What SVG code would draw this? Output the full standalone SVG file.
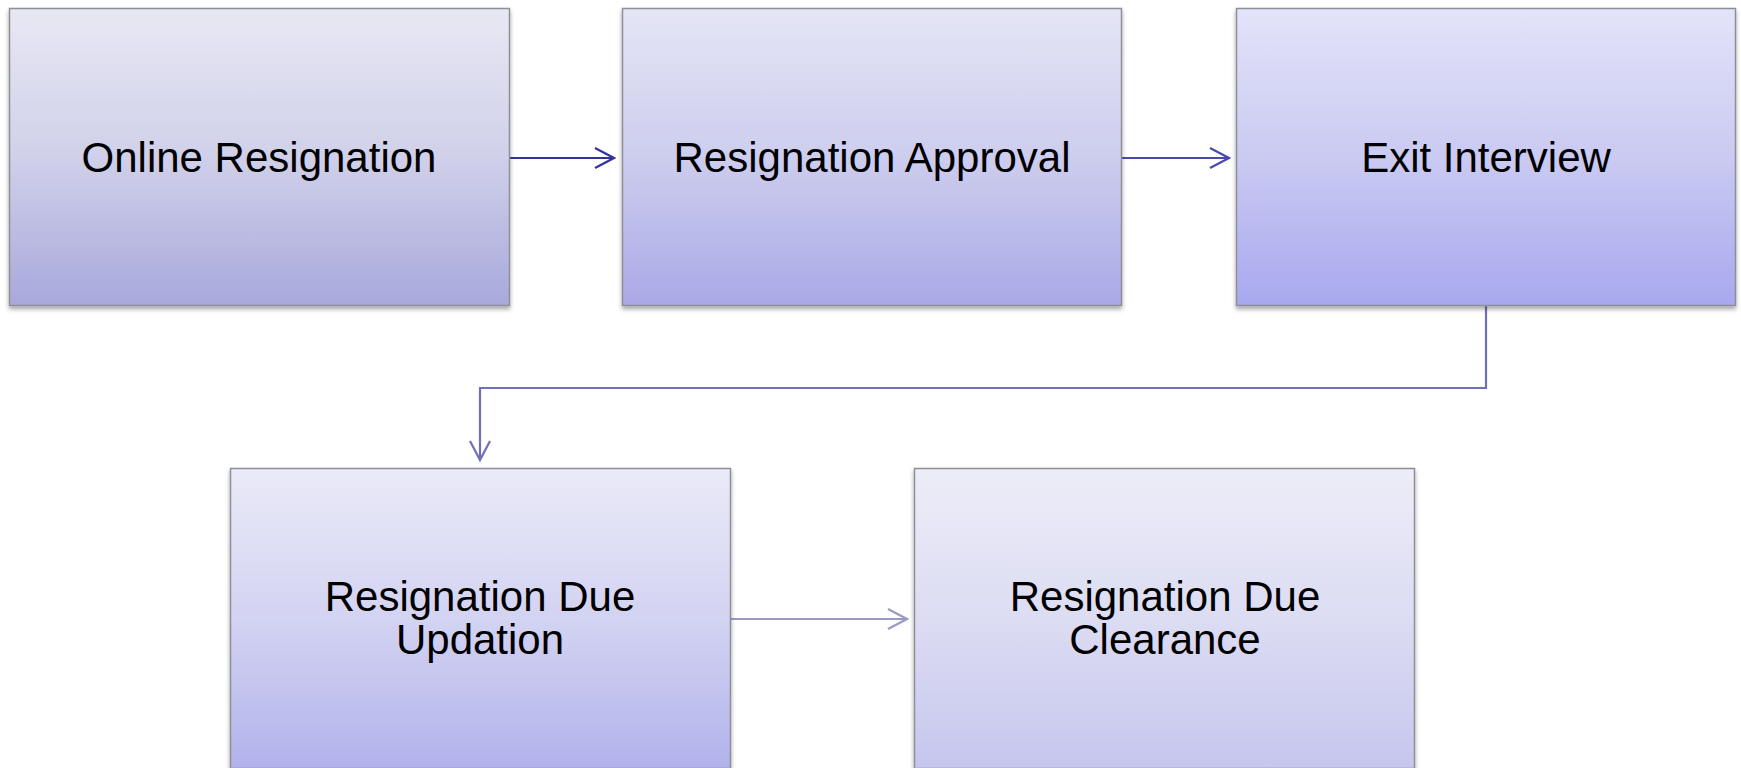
<svg xmlns="http://www.w3.org/2000/svg" width="1741" height="768" viewBox="0 0 1741 768">
  <style>
    .box { stroke: #8e8e96; stroke-width: 1.5; filter: url(#shadow); }
    .label { font-family: "Liberation Sans", Arial, sans-serif; font-size: 42px; fill: #000; text-anchor: middle; }
    .conn { fill: none; stroke-width: 2.2; }
  </style>
  <defs>
    <filter id="shadow" x="-5%" y="-5%" width="110%" height="115%">
      <feDropShadow dx="0" dy="3" stdDeviation="2" flood-color="#000" flood-opacity="0.35"/>
    </filter>
    <linearGradient id="g1" x1="0" y1="0" x2="0" y2="1">
      <stop offset="0" stop-color="#e8e8f4"/>
      <stop offset="0.5" stop-color="#d0d0ea"/>
      <stop offset="1" stop-color="#a8a8dc"/>
    </linearGradient>
    <linearGradient id="g2" x1="0" y1="0" x2="0" y2="1">
      <stop offset="0" stop-color="#e5e5f6"/>
      <stop offset="0.5" stop-color="#cdcdee"/>
      <stop offset="1" stop-color="#a9a9e7"/>
    </linearGradient>
    <linearGradient id="g3" x1="0" y1="0" x2="0" y2="1">
      <stop offset="0" stop-color="#e3e3f9"/>
      <stop offset="0.5" stop-color="#cacaf2"/>
      <stop offset="1" stop-color="#a8a8f0"/>
    </linearGradient>
    <linearGradient id="g4" x1="0" y1="0" x2="0" y2="1">
      <stop offset="0" stop-color="#eaeaf8"/>
      <stop offset="0.5" stop-color="#d3d3f2"/>
      <stop offset="1" stop-color="#b2b2ec"/>
    </linearGradient>
    <linearGradient id="g5" x1="0" y1="0" x2="0" y2="1">
      <stop offset="0" stop-color="#ededf8"/>
      <stop offset="0.5" stop-color="#dcdcf3"/>
      <stop offset="1" stop-color="#c6c6ee"/>
    </linearGradient>
    <marker id="a1" markerUnits="userSpaceOnUse" markerWidth="24" markerHeight="24" viewBox="-22 -12 24 24" refX="0" refY="0" orient="auto">
      <path d="M-19,-10 L0,0 L-19,10" fill="none" stroke="#333399" stroke-width="2.2"/>
    </marker>
    <marker id="a2" markerUnits="userSpaceOnUse" markerWidth="24" markerHeight="24" viewBox="-22 -12 24 24" refX="0" refY="0" orient="auto">
      <path d="M-19,-10 L0,0 L-19,10" fill="none" stroke="#4a4aaa" stroke-width="2.2"/>
    </marker>
    <marker id="a3" markerUnits="userSpaceOnUse" markerWidth="24" markerHeight="24" viewBox="-22 -12 24 24" refX="0" refY="0" orient="auto">
      <path d="M-19,-10 L0,0 L-19,10" fill="none" stroke="#7070b8" stroke-width="2.2"/>
    </marker>
    <marker id="a4" markerUnits="userSpaceOnUse" markerWidth="24" markerHeight="24" viewBox="-22 -12 24 24" refX="0" refY="0" orient="auto">
      <path d="M-19,-10 L0,0 L-19,10" fill="none" stroke="#9a9ac6" stroke-width="2.2"/>
    </marker>
  </defs>

  <rect width="1741" height="768" fill="#ffffff"/>

  <g id="connectors">
    <path class="conn" d="M510,158 L614,158" stroke="#333399" marker-end="url(#a1)"/>
    <path class="conn" d="M1121,158 L1229,158" stroke="#4a4aaa" marker-end="url(#a2)"/>
    <path class="conn" d="M1486,306 L1486,388 L480,388 L480,460" stroke="#7070b8" marker-end="url(#a3)"/>
    <path class="conn" d="M731,619 L907,619" stroke="#9a9ac6" marker-end="url(#a4)"/>
  </g>

  <g id="node-online-resignation">
    <rect class="box" x="9.5" y="8.5" width="500" height="297" fill="url(#g1)"/>
    <text class="label" x="259" y="172">Online Resignation</text>
  </g>

  <g id="node-resignation-approval">
    <rect class="box" x="622.5" y="8.5" width="499" height="297" fill="url(#g2)"/>
    <text class="label" x="872" y="172">Resignation Approval</text>
  </g>

  <g id="node-exit-interview">
    <rect class="box" x="1236.5" y="8.5" width="499" height="297" fill="url(#g3)"/>
    <text class="label" x="1486" y="172">Exit Interview</text>
  </g>

  <g id="node-due-updation">
    <rect class="box" x="230.5" y="468.5" width="500" height="300" fill="url(#g4)"/>
    <text class="label" x="480" y="611">Resignation Due</text>
    <text class="label" x="480" y="654">Updation</text>
  </g>

  <g id="node-due-clearance">
    <rect class="box" x="914.5" y="468.5" width="500" height="300" fill="url(#g5)"/>
    <text class="label" x="1165" y="611">Resignation Due</text>
    <text class="label" x="1165" y="654">Clearance</text>
  </g>
</svg>
